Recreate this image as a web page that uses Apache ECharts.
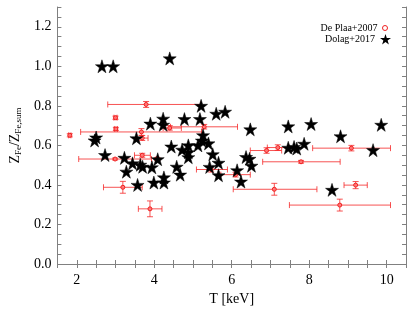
<!DOCTYPE html>
<html><head><meta charset="utf-8">
<script src="https://cdn.jsdelivr.net/npm/echarts@6/dist/echarts.min.js"></script>
<style>html,body{margin:0;padding:0;background:#fff}#c{width:419px;height:312px}</style>
</head><body><div id="c"></div>
<script>
// Dolag+2017 simulated clusters (stars)
var dolagT = [2.65,2.94,4.40,5.21,5.60,5.83,3.90,4.23,4.23,4.78,5.18,2.50,2.46,3.54,5.26,5.23,5.40,4.44,4.72,4.88,4.88,5.13,4.88,5.51,5.66,2.73,3.23,3.44,3.64,3.70,3.94,4.09,4.58,5.43,3.28,3.57,3.99,4.25,4.25,4.67,5.66,6.14,6.24,6.37,6.46,6.51,7.46,7.61,7.68,7.87,9.65,8.59,6.48,7.46,8.05,9.86,8.81];
var dolagZ = [1.00,1.00,1.04,0.80,0.76,0.77,0.71,0.735,0.704,0.733,0.733,0.64,0.625,0.636,0.651,0.624,0.61,0.594,0.578,0.60,0.565,0.60,0.54,0.555,0.512,0.551,0.537,0.509,0.502,0.492,0.489,0.53,0.492,0.491,0.467,0.40,0.412,0.438,0.412,0.452,0.449,0.474,0.417,0.541,0.532,0.497,0.588,0.592,0.584,0.608,0.576,0.375,0.681,0.696,0.708,0.704,0.646];

// De Plaa+2007 observed clusters (with errors)
var plaaT   = [3.79,3.00,3.01,1.82,3.67,3.69,4.40,5.29,2.99,3.69,4.08,3.19,3.89,5.47,6.10,6.90,7.19,9.09,7.79,7.10,9.20,8.79];
var plaaZ   = [0.807,0.740,0.683,0.651,0.668,0.637,0.688,0.694,0.531,0.550,0.531,0.388,0.279,0.478,0.452,0.574,0.589,0.586,0.517,0.378,0.399,0.298];
var plaaTlo = [2.80,2.96,2.97,1.79,2.10,3.54,4.23,4.42,2.05,3.49,4.05,2.69,3.59,5.09,5.72,6.48,6.92,8.09,6.80,6.04,8.90,7.49];
var plaaThi = [5.20,3.04,3.05,1.85,5.22,3.84,4.70,6.15,3.93,3.90,4.11,3.69,4.20,5.89,6.48,7.29,7.48,10.10,8.80,8.20,9.50,10.10];
var plaaZlo = [0.792,0.732,0.675,0.643,0.651,0.625,0.677,0.683,0.526,0.540,0.523,0.358,0.239,0.465,0.440,0.560,0.575,0.572,0.510,0.348,0.381,0.268];
var plaaZhi = [0.822,0.748,0.691,0.659,0.685,0.650,0.700,0.706,0.536,0.560,0.539,0.418,0.319,0.491,0.464,0.588,0.603,0.600,0.524,0.408,0.417,0.328];

var xTickLabels = [2,4,6,8,10];
var yTickLabels = ['0.0','0.2','0.4','0.6','0.8','1.0','1.2'];

var STAR = 'path://M50,0 L61.2,34.5 L97.6,34.5 L68.2,55.9 L79.4,90.5 L50,69.1 L20.6,90.5 L31.8,55.9 L2.4,34.5 L38.8,34.5 Z';
var FONT = 'Liberation Serif';
var axisGray = '#808080';

var plaaData = plaaT.map(function(t,i){return [t,plaaZ[i],plaaTlo[i],plaaThi[i],plaaZlo[i],plaaZhi[i]];});
var dolagData = dolagT.map(function(t,i){return [t,dolagZ[i]];});

function xFmt(v){ var r=Math.round(v); return (Math.abs(v-r)<1e-6 && xTickLabels.indexOf(r)>=0) ? String(r) : ''; }
function yFmt(v){ var s=v.toFixed(1); return (Math.abs(v*5-Math.round(v*5))<1e-6 && yTickLabels.indexOf(s)>=0) ? s : ''; }

function xAx(pos, show){
  return {type:'value', position:pos, min:1.5, max:10.5, interval:0.5,
    axisLine:{show:true,lineStyle:{color:axisGray,width:1}},
    axisTick:{show:true,inside:true,length:4,lineStyle:{color:axisGray}},
    splitLine:{show:false},
    axisLabel:{show:show,formatter:xFmt,color:'#000',fontFamily:FONT,fontSize:14,margin:9},
    name: show?'T [keV]':'', nameLocation:'middle', nameGap:28,
    nameTextStyle:{color:'#000',fontFamily:FONT,fontSize:14}};
}
function yAx(pos, show){
  return {type:'value', position:pos, min:0, max:1.3, interval:0.05,
    axisLine:{show:true,lineStyle:{color:axisGray,width:1}},
    axisTick:{show:true,inside:true,length:4,lineStyle:{color:axisGray}},
    splitLine:{show:false},
    axisLabel:{show:show,formatter:yFmt,color:'#000',fontFamily:FONT,fontSize:14,margin:6},
    name: show?'{a|Z}{s|Fe}{a|/Z}{s|Fe,sum}':'', nameLocation:'middle', nameGap:26, nameRotate:90,
    nameTextStyle:{color:'#000',fontFamily:FONT,fontSize:14,
      rich:{a:{fontFamily:FONT,fontSize:14,color:'#000',verticalAlign:'middle',lineHeight:16},
            s:{fontFamily:FONT,fontSize:9,color:'#000',verticalAlign:'bottom',lineHeight:16}}}};
}

var chart = echarts.init(document.getElementById('c'), null, {renderer:'canvas'});
chart.setOption({
  animation:false,
  backgroundColor:'#fff',
  grid:{left:43,right:13,top:7,bottom:48},
  xAxis:[xAx('bottom',true), xAx('top',false)],
  yAxis:[yAx('left',true), yAx('right',false)],
  legend:[
    {data:[{name:'De Plaa+2007', icon:'circle', itemStyle:{color:'#fff',borderColor:'#f02020',borderWidth:1}}],
     right:26, top:18, orient:'vertical', align:'right', itemWidth:5, itemHeight:5,
     textStyle:{fontFamily:FONT,fontSize:10,color:'#000'}, itemGap:2},
    {data:[{name:'Dolag+2017',icon:STAR, itemStyle:{color:'#000',borderWidth:0}}], right:23, top:29, orient:'vertical', align:'right', itemWidth:11, itemHeight:11,
     textStyle:{fontFamily:FONT,fontSize:10,color:'#000'}, itemGap:2}
  ],
  series:[
    {type:'custom', name:'errbars', data:plaaData, encode:{x:0,y:1}, z:2,
     renderItem:function(params, api){
       var x=api.value(0), y=api.value(1);
       var pl=api.coord([api.value(2),y]), ph=api.coord([api.value(3),y]);
       var pb=api.coord([x,api.value(4)]), pt=api.coord([x,api.value(5)]);
       var c=3, st={stroke:'rgba(245,40,40,0.8)',lineWidth:1};
       return {type:'group', children:[
         {type:'line',shape:{x1:pl[0],y1:pl[1],x2:ph[0],y2:ph[1]},style:st},
         {type:'line',shape:{x1:pl[0],y1:pl[1]-c,x2:pl[0],y2:pl[1]+c},style:st},
         {type:'line',shape:{x1:ph[0],y1:ph[1]-c,x2:ph[0],y2:ph[1]+c},style:st},
         {type:'line',shape:{x1:pb[0],y1:pb[1],x2:pt[0],y2:pt[1]},style:st},
         {type:'line',shape:{x1:pb[0]-c,y1:pb[1],x2:pb[0]+c,y2:pb[1]},style:st},
         {type:'line',shape:{x1:pt[0]-c,y1:pt[1],x2:pt[0]+c,y2:pt[1]},style:st}
       ]};
     }},
    {type:'scatter', name:'De Plaa+2007', data:plaaData.map(function(d){return [d[0],d[1]];}), symbol:'circle', symbolSize:4, z:3,
     itemStyle:{color:'rgba(255,120,120,0.9)', borderColor:'#f02020', borderWidth:1, opacity:1}},
    {type:'scatter', name:'Dolag+2017', data:dolagData, symbol:STAR, symbolSize:13, z:4,
     itemStyle:{color:'#000', borderColor:'#000', borderWidth:0.5, opacity:1}}
  ]
});
</script></body></html>
